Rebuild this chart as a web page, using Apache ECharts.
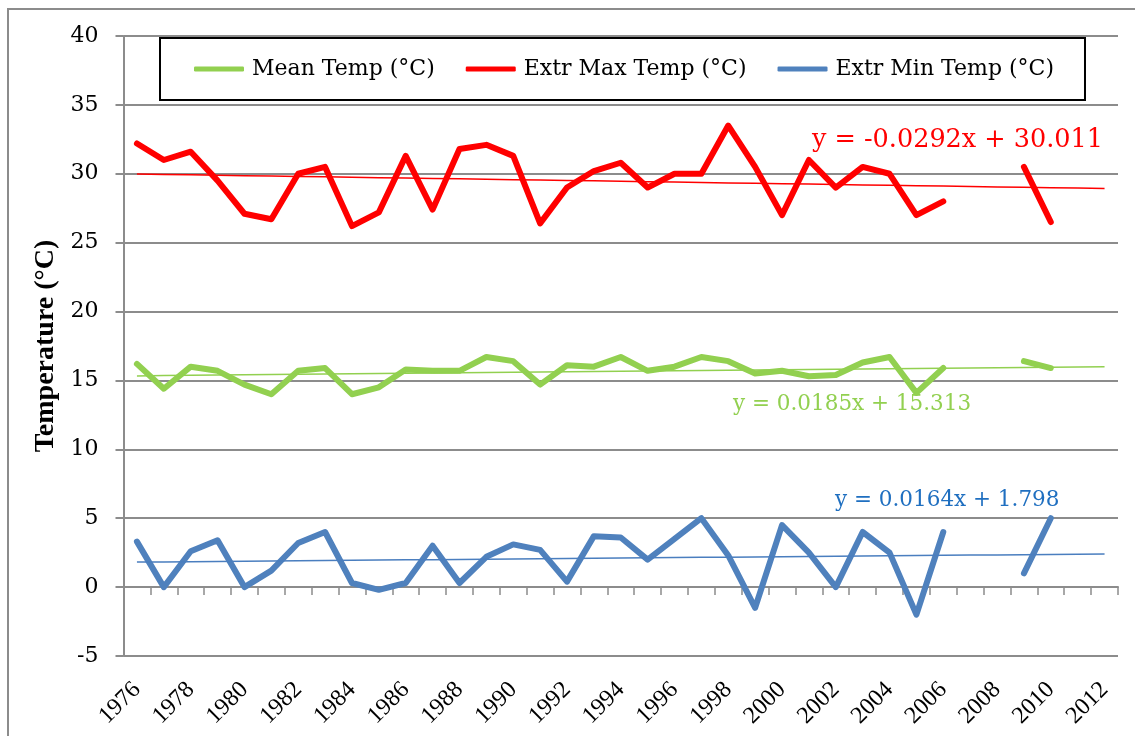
<!DOCTYPE html>
<html><head><meta charset="utf-8">
<script src="https://cdn.jsdelivr.net/npm/echarts@6/dist/echarts.min.js"></script>
<style>
html,body{margin:0;padding:0;background:#fff;overflow:hidden}
#frame{position:absolute;left:7px;top:8px;width:1300px;height:900px;border:2px solid #8c8c8c;box-sizing:border-box}
#c{position:absolute;left:0;top:0;width:1135px;height:736px}
</style>
</head><body><div id="frame"></div><div id="c"></div>
<script>
const years = [];
for (let y = 1976; y <= 2012; y++) years.push(String(y));

const meanTemp = [16.2,14.4,16.0,15.7,14.7,14.0,15.7,15.9,14.0,14.5,15.8,15.7,15.7,16.7,16.4,14.7,16.1,16.0,16.7,15.7,16.0,16.7,16.4,15.5,15.7,15.3,15.4,16.3,16.7,14.1,15.9,null,null,16.4,15.9,null,null];
const maxTemp  = [32.2,31.0,31.6,29.5,27.1,26.7,30.0,30.5,26.2,27.2,31.3,27.4,31.8,32.1,31.3,26.4,29.0,30.2,30.8,29.0,30.0,30.0,33.5,30.5,27.0,31.0,29.0,30.5,30.0,27.0,28.0,null,null,30.5,26.5,null,null];
const minTemp  = [3.3,0.0,2.6,3.4,0.0,1.2,3.2,4.0,0.3,-0.2,0.3,3.0,0.3,2.2,3.1,2.7,0.4,3.7,3.6,2.0,3.5,5.0,2.3,-1.5,4.5,2.5,0.0,4.0,2.5,-2.0,4.0,null,null,1.0,5.0,null,null];

// trendline coefficients as shown on the chart (x = 1 for 1976)
const meanTrend = [0.0185, 15.313];
const maxTrend  = [-0.0292, 30.011];
const minTrend  = [0.0164, 1.798];
const trendLabels = ['y = 0.0185x + 15.313','y = -0.0292x + 30.011','y = 0.0164x + 1.798'];
const seriesNames = ['Mean Temp (°C)','Extr Max Temp (°C)','Extr Min Temp (°C)'];
const yTicks = [-5,0,5,10,15,20,25,30,35,40];

const trend = c => years.map((_, i) => +(c[0] * (i + 1) + c[1]).toFixed(4));

const GREEN = '#92D050', RED = '#FF0000', BLUE = '#4F81BD';
const FONT = 'DejaVu Serif';

const chart = echarts.init(document.getElementById('c'), null, {renderer: 'canvas'});
const mainLine = (name, data, color) => ({
  name, type: 'line', data, xAxisIndex: 0, yAxisIndex: 0,
  symbol: 'none', connectNulls: false, z: 3,
  lineStyle: {color, width: 6, cap: 'round', join: 'round'},
  itemStyle: {color}
});
const trendLine = (data, color) => ({
  type: 'line', data, xAxisIndex: 0, yAxisIndex: 0, symbol: 'none', z: 4,
  lineStyle: {color, width: 1.5}, silent: true
});

chart.setOption({
  animation: false,
  backgroundColor: 'transparent',
  textStyle: {fontFamily: FONT},
  grid: {left: 123.5, right: 17, top: 36, bottom: 80, containLabel: false},
  legend: {
    data: seriesNames,
    left: 160, top: 38,
    padding: [20, 31, 20, 34],
    itemGap: 31, itemWidth: 50, itemHeight: 5,
    borderColor: '#000', borderWidth: 2,
    backgroundColor: '#fff',
    icon: 'roundRect',
    textStyle: {fontFamily: FONT, fontSize: 22, color: '#000', padding: [0,0,0,3]}
  },
  xAxis: [
    {
      type: 'category', data: years, boundaryGap: true, position: 'bottom',
      axisLine: {show: false, onZero: false}, axisTick: {show: false},
      axisLabel: {interval: 1, rotate: 45, margin: 30, fontFamily: 'Liberation Serif', fontSize: 24, color: '#000'},
      splitLine: {show: false}
    },
    {
      type: 'category', data: years, boundaryGap: true, position: 'bottom', show: true,
      axisLine: {show: true, onZero: true, lineStyle: {color: '#8c8c8c', width: 2}},
      axisTick: {show: true, interval: 0, length: 8, lineStyle: {color: '#8c8c8c', width: 1.5}},
      axisLabel: {show: false}, splitLine: {show: false}
    }
  ],
  yAxis: {
    type: 'value', min: -5, max: 40, interval: 5,
    name: 'Temperature (°C)', nameLocation: 'middle', nameGap: 56, nameRotate: 90,
    nameTextStyle: {fontFamily: 'Liberation Serif', fontWeight: 'bold', fontSize: 28, color: '#000'},
    axisLine: {show: true, onZero: false, lineStyle: {color: '#8c8c8c', width: 2}},
    axisTick: {show: true, length: 8, lineStyle: {color: '#8c8c8c', width: 2}},
    axisLabel: {margin: 25, fontFamily: FONT, fontSize: 22, color: '#000',
      formatter: v => yTicks.includes(v) ? String(v) : ''},
    splitLine: {lineStyle: {color: '#8c8c8c', width: 2}}
  },
  series: [
    mainLine(seriesNames[0], meanTemp, GREEN),
    mainLine(seriesNames[1], maxTemp, RED),
    mainLine(seriesNames[2], minTemp, BLUE),
    trendLine(trend(meanTrend), GREEN),
    trendLine(trend(maxTrend), RED),
    trendLine(trend(minTrend), '#4A7EBF'),
    {type: 'line', data: [], xAxisIndex: 1, yAxisIndex: 0, silent: true}
  ],
  graphic: [
    {type: 'text', left: 733, top: 393, style: {text: trendLabels[0], fill: GREEN, font: '21.5px "DejaVu Serif"'}},
    {type: 'text', left: 812, top: 127, style: {text: trendLabels[1], fill: RED, font: '25.5px "DejaVu Serif"'}},
    {type: 'text', left: 835, top: 489, style: {text: trendLabels[2], fill: '#1F6FC0', font: '21.5px "DejaVu Serif"'}}
  ]
});
</script>
</body></html>
